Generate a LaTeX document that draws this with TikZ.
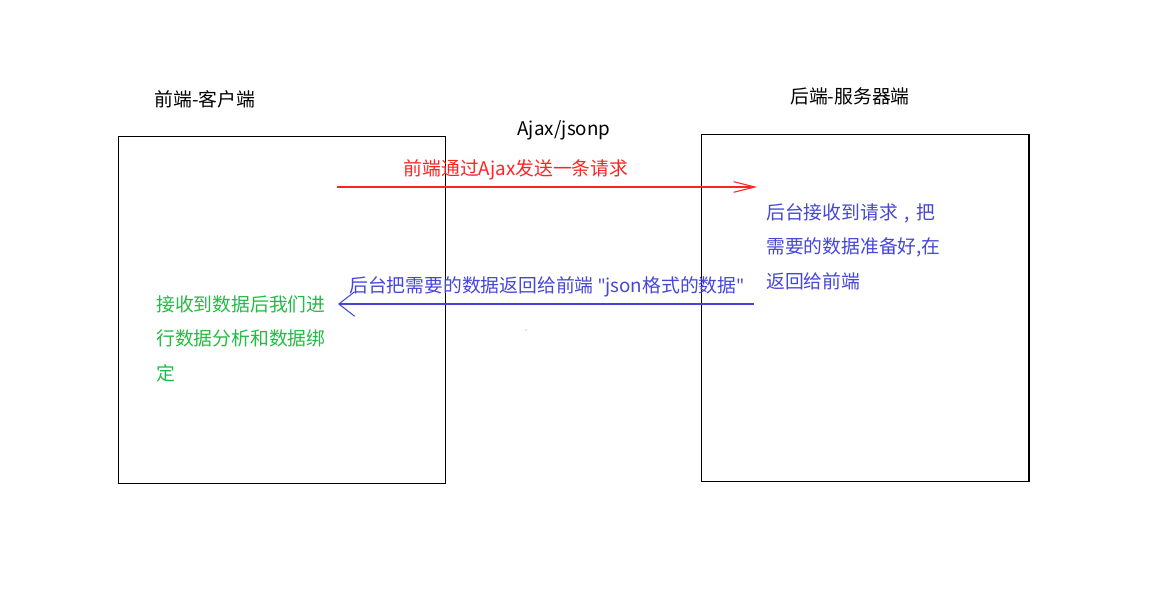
\documentclass[tikz,border=0pt]{standalone}
\usepackage{fontspec}
\setmainfont{Noto Sans CJK SC}
\newfontfamily\latinfont{Noto Sans}
\newcommand\dq{{\latinfont\char34}}
\usetikzlibrary{arrows.meta}
\definecolor{reqred}{HTML}{FF2424}
\definecolor{resblue}{HTML}{4646D8}
\definecolor{bindgreen}{HTML}{22BB44}
\begin{document}
\begin{tikzpicture}[x=0.02cm, y=-0.02cm,
  every node/.style={font=\fontsize{10.7}{19.6}\selectfont, inner sep=0pt},
  side/.style={draw, line width=0.6pt, minimum width=6.56cm, minimum height=6.96cm},
  msg/.style={line width=0.6pt}]
\useasboundingbox (0,0) rectangle (1161,605);
% the two sides
\node[side] (client) at (282,310) {};
\node[side] (server) at (865,308) {};
\node (clienttitle) at (205,99) {前端-客户端};
\node (servertitle) at (850,96) {后端-服务器端};
\node (proto) at (564,130) {Ajax/jsonp};
% request
\coordinate (reqfrom) at (337,187);
\coordinate (reqto) at (757,187);
\draw[msg, reqred, -{Straight Barb[length=12pt, width=6pt]}] (reqfrom) -- (reqto);
\node[text=reqred] (reqtext) at (516,170) {前端通过Ajax发送一条请求};
% server side
\node[text=resblue, anchor=north west, align=left] (srvnote) at (766,203) {后台接收到请求\makebox[1em]{,}把\\需要的数据准备好,在\\返回给前端};
% response
\coordinate (resfrom) at (754,304);
\coordinate (resto) at (338,304);
\draw[msg, resblue, -{Straight Barb[length=9pt, width=14pt]}] (resfrom) -- (resto);
\node[text=resblue, anchor=west] (restext) at (349,287) {后台把需要的数据返回给前端 \dq json格式的数据\dq};
% client side
\node[text=bindgreen, anchor=north west, align=left] (clinote) at (156,295) {接收到数据后我们进\\行数据分析和数据绑\\定};
\fill[resblue!60] (526,330) circle (0.4pt);
\end{tikzpicture}
\end{document}
